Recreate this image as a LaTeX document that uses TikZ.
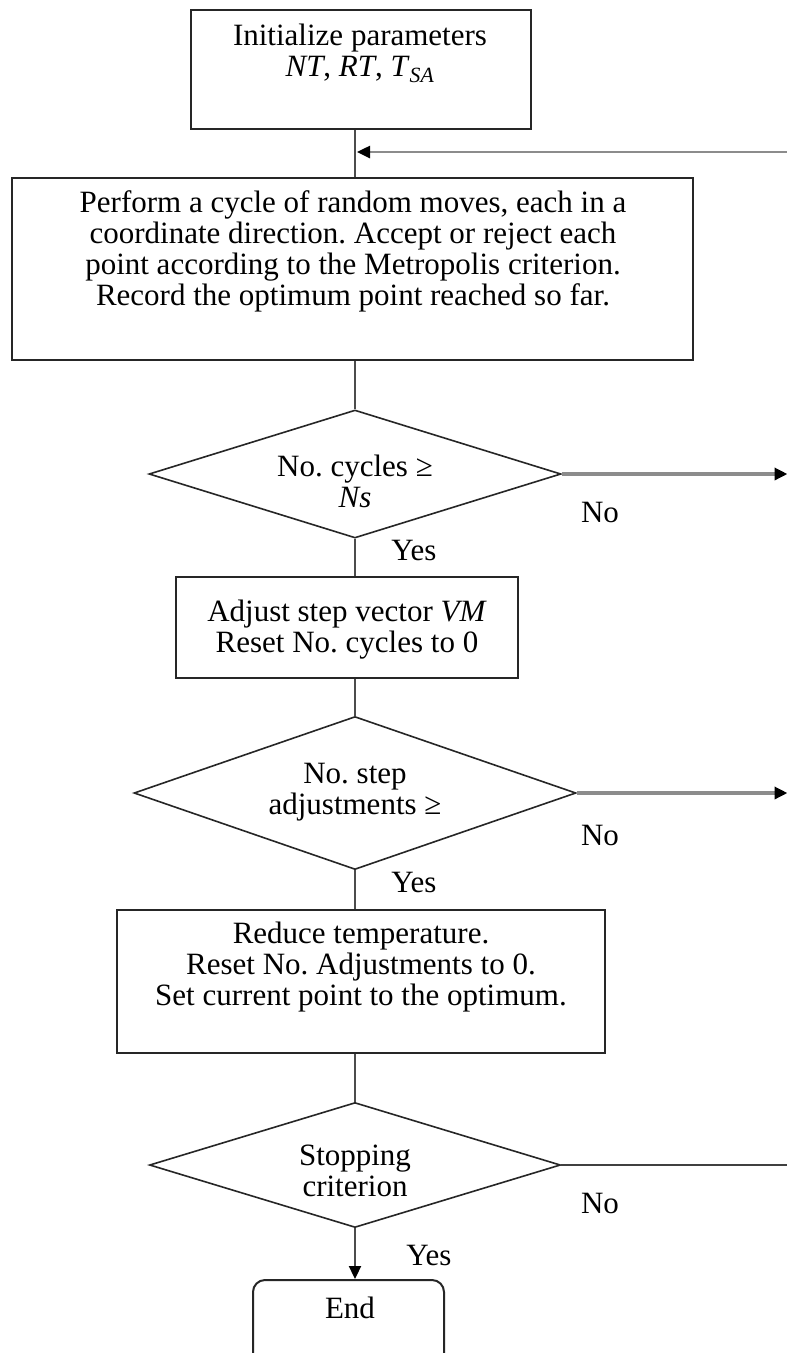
\documentclass[tikz,border=0pt]{standalone}
\usepackage{fontspec}
\setmainfont{Liberation Serif}
\usetikzlibrary{shapes.geometric,arrows.meta}
\frenchspacing
\begin{document}
\begin{tikzpicture}[x=1pt,y=-1pt,
  every node/.style={font=\fontsize{31}{31}\selectfont, text=black},
  boxnode/.style={draw=black!85, line width=2pt, rectangle, inner sep=0pt},
  decnode/.style={draw=black!85, line width=1.6pt, diamond, inner sep=0pt, aspect=3},
  endnode/.style={draw=black!85, line width=2pt, rectangle, rounded corners=12pt, inner sep=0pt},
  txt/.style={align=center, inner sep=0pt},
  flow/.style={draw=black!70, line width=2.2pt},
  tip/.style={-{Triangle[length=13pt,width=12pt,color=black]}},
  sidearrow/.style={draw=black!45, line width=3.5pt, tip},
  loopline/.style={draw=black!45, line width=2.5pt},
  thinline/.style={draw=black!75, line width=1.5pt},
  lbl/.style={inner sep=0pt}
]
\useasboundingbox (0,0) rectangle (787,1353);
\clip (0,0) rectangle (787,1353);
\fill[white] (0,0) rectangle (787,1353);

% axis / helper coordinates
\coordinate (ax) at (355,0);
\coordinate (lp) at (792,0);
\coordinate (edge) at (787.5,0);
\coordinate (join) at (357,152);

% boxes
\node[boxnode, minimum width=340pt, minimum height=119pt] (init) at (361,69.5) {};
\node[txt] (initt) at (360,53) {Initialize parameters\\\textit{NT}, \textit{RT}, \textit{T}\textsubscript{\textit{SA}}};

\node[boxnode, minimum width=681pt, minimum height=182pt] (perf) at (352.5,269) {};
\node[txt] (perft) at (353,251) {Perform a cycle of random moves, each in a\\coordinate direction. Accept or reject each\\point according to the Metropolis criterion.\\Record the optimum point reached so far.};

\node[decnode, minimum width=412pt, minimum height=128pt] (d1) at (355,474) {};
\node[txt] (d1t) at (355,481) {No. cycles ≥\\\textit{Ns}};

\node[boxnode, minimum width=342pt, minimum height=101pt] (adj) at (347,627.5) {};
\node[txt] (adjt) at (347,630) {Adjust step vector \textit{VM}\\Reset No. cycles to 0};

\node[decnode, minimum width=442pt, minimum height=153pt] (d2) at (355,793) {};
\node[txt] (d2t) at (355,792) {No. step\\adjustments ≥};

\node[boxnode, minimum width=488pt, minimum height=143pt] (red) at (361,981.5) {};
\node[txt] (redt) at (361,967) {Reduce temperature.\\Reset No. Adjustments to 0.\\Set current point to the optimum.};

\node[decnode, minimum width=411pt, minimum height=125pt] (d3) at (355,1165) {};
\node[txt] (d3t) at (355,1171) {Stopping\\criterion};

\node[endnode, minimum width=191pt, minimum height=95pt] (endb) at (348.5,1327.5) {};
\node[txt] (endt) at (350,1308) {End};

% labels
\node[lbl] (no1) at (600,512) {No};
\node[lbl] (no2) at (600,835) {No};
\node[lbl] (no3) at (600,1203) {No};
\node[lbl] (yes1) at (414,550) {Yes};
\node[lbl] (yes2) at (414,882) {Yes};
\node[lbl] (yes3) at (429,1255) {Yes};

% main flow
\draw[flow] (init.south -| ax) -- (perf.north -| ax);
\draw[flow] (perf.south -| ax) -- (d1.north);
\draw[flow] (d1.south) -- (adj.north -| ax);
\draw[flow] (adj.south -| ax) -- (d2.north);
\draw[flow] (d2.south) -- (red.north -| ax);
\draw[flow] (red.south -| ax) -- (d3.north);
\draw[flow, tip] (d3.south) -- (endb.north -| ax);

% No branches
\draw[sidearrow] (d1.east) -- (d1.east -| edge);
\draw[sidearrow] (d2.east) -- (d2.east -| edge);
\draw[thinline] (d3.east) -- (d3.east -| lp);
\draw[loopline] (d3.east -| lp) -- (lp |- join);
\draw[loopline, tip] (lp |- join) -- (join);
\end{tikzpicture}
\end{document}
